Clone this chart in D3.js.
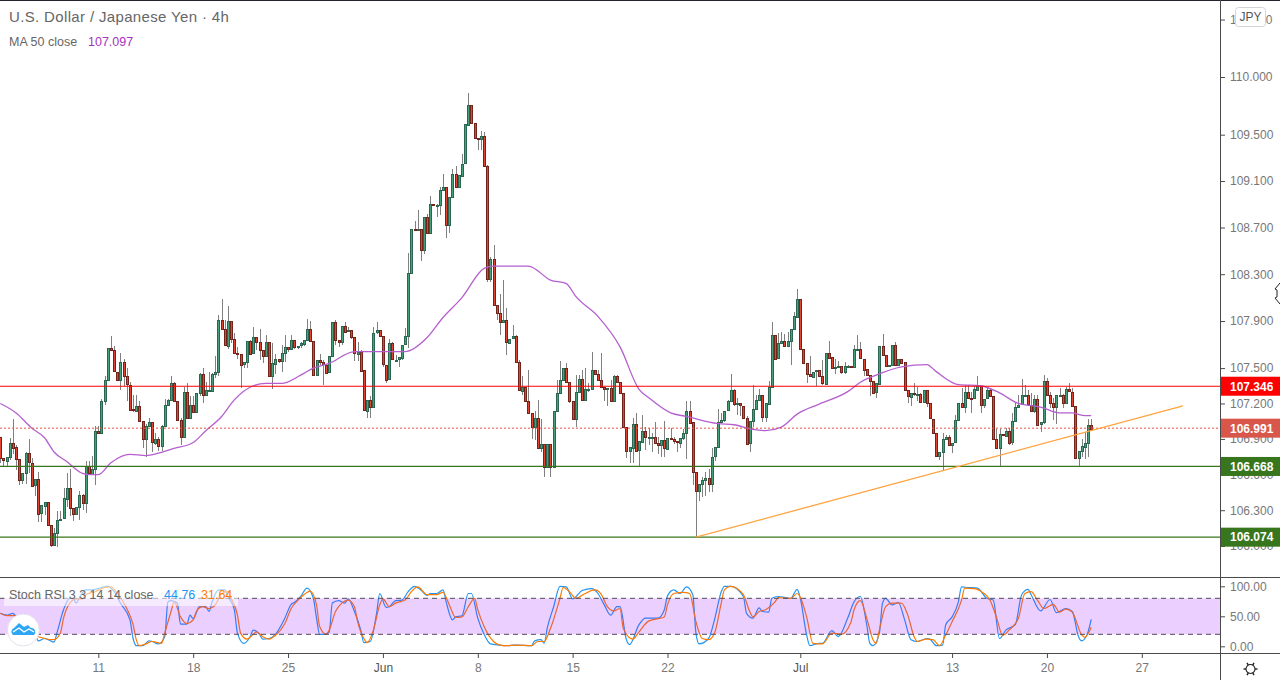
<!DOCTYPE html>
<html>
<head>
<meta charset="utf-8">
<title>USDJPY 4h</title>
<style>
    html, body { margin: 0; padding: 0; background: #fff; }
    svg { display: block; }
    text { font-family: "Liberation Sans", Arial, sans-serif; }
    .axis path { display: none; }
    .axis line { stroke: #4a4a4a; }
    .axis text { fill: #777; font-size: 12px; }
    .tag text, .tag { font-weight: bold; }
</style>
</head>
<body>
<div id="chart"></div>
<script src="https://cdnjs.cloudflare.com/ajax/libs/d3/7.8.5/d3.min.js"></script>
<script>
// 4h candles, one per row of ten, each opens at the previous close
const firstOpen = 106.92;
const closes = [
    106.74,106.72,106.75,106.87,106.83,106.73,106.55,106.61,106.78,106.70,
    106.51,106.56,106.27,106.34,106.37,106.18,106.01,106.11,106.22,106.23,
    106.40,106.49,106.32,106.27,106.33,106.43,106.36,106.67,106.61,106.65,
    106.97,106.95,107.22,107.40,107.67,107.65,107.47,107.40,107.55,107.43,
    107.36,107.15,107.14,107.18,107.05,106.90,107.01,107.04,106.87,106.90,
    106.84,107.01,107.19,107.23,107.37,107.22,107.06,106.92,107.30,107.08,
    107.19,107.13,107.29,107.45,107.27,107.31,107.31,107.45,107.47,107.91,
    107.83,107.69,107.90,107.75,107.63,107.62,107.53,107.55,107.73,107.62,
    107.76,107.72,107.65,107.60,107.72,107.43,107.54,107.58,107.56,107.63,
    107.68,107.66,107.74,107.68,107.69,107.71,107.74,107.83,107.73,107.44,
    107.57,107.55,107.53,107.46,107.60,107.89,107.74,107.72,107.86,107.81,
    107.82,107.76,107.62,107.64,107.48,107.14,107.23,107.17,107.80,107.82,
    107.77,107.53,107.40,107.71,107.57,107.57,107.59,107.70,107.77,108.31,
    108.69,108.68,108.69,108.51,108.79,108.65,108.90,108.89,108.89,109.02,
    109.05,108.72,108.96,109.16,109.05,109.15,109.25,109.59,109.76,109.60,
    109.47,109.46,109.49,109.23,108.26,108.43,108.04,107.97,107.89,107.91,
    107.72,107.75,107.77,107.55,107.31,107.34,107.22,107.12,107.00,107.08,
    106.83,106.86,106.67,106.86,106.67,107.14,107.29,107.40,107.50,107.38,
    107.22,107.07,107.30,107.41,107.23,107.32,107.32,107.48,107.45,107.40,
    107.34,107.32,107.33,107.22,107.43,107.38,107.29,107.00,106.80,106.83,
    107.03,106.80,106.88,106.97,106.92,106.92,106.92,106.87,106.85,106.89,
    106.82,106.91,106.90,106.88,106.87,106.91,106.95,107.14,107.04,106.62,
    106.46,106.52,106.55,106.57,106.52,106.75,106.83,107.04,107.06,107.14,
    107.22,107.31,107.19,107.20,107.18,107.08,106.86,107.05,107.15,107.23,
    107.27,107.08,107.20,107.34,107.78,107.58,107.71,107.73,107.69,107.73,
    107.83,107.94,108.09,107.66,107.54,107.45,107.43,107.47,107.48,107.43,
    107.37,107.63,107.59,107.50,107.51,107.52,107.47,107.52,107.52,107.51,
    107.66,107.66,107.58,107.49,107.44,107.39,107.29,107.37,107.69,107.61,
    107.52,107.53,107.70,107.53,107.58,107.55,107.31,107.26,107.29,107.28,
    107.28,107.21,107.31,107.20,107.07,106.95,106.76,106.79,106.90,106.92,
    106.85,106.87,107.06,107.20,107.17,107.30,107.25,107.24,107.32,107.35,
    107.19,107.24,107.31,107.26,106.90,106.82,106.94,106.93,106.97,106.87,
    107.05,107.17,107.19,107.27,107.27,107.19,107.14,107.24,107.02,107.04,
    107.39,107.27,107.20,107.17,107.27,107.27,107.20,107.32,107.30,107.18,
    106.74,106.80,106.84,106.87,107.02,106.99
];
const highs = [
    106.92,106.74,106.75,106.91,107.07,106.85,106.73,106.61,106.79,106.90,
    106.74,106.56,106.62,106.34,106.37,106.37,106.18,106.15,106.29,106.29,
    106.49,106.61,106.65,106.32,106.33,106.46,106.44,106.71,106.71,106.76,
    107.01,107.01,107.24,107.43,107.67,107.77,107.69,107.47,107.63,107.58,
    107.50,107.38,107.27,107.27,107.22,107.05,107.03,107.08,107.04,106.95,
    106.92,107.02,107.24,107.24,107.43,107.38,107.22,107.08,107.34,107.37,
    107.26,107.26,107.29,107.46,107.50,107.38,107.47,107.46,107.60,107.95,
    108.09,107.91,108.03,107.90,107.80,107.68,107.62,107.55,107.73,107.74,
    107.85,107.76,107.83,107.65,107.78,107.72,107.71,107.62,107.58,107.70,
    107.78,107.68,107.78,107.74,107.69,107.72,107.74,107.92,107.90,107.73,
    107.57,107.62,107.57,107.53,107.60,107.89,107.91,107.74,107.86,107.89,
    107.85,107.82,107.76,107.72,107.65,107.48,107.23,107.26,107.85,107.89,
    107.82,107.77,107.53,107.75,107.72,107.61,107.59,107.70,107.84,108.48,
    108.69,108.76,108.85,108.69,108.79,108.82,108.97,108.90,108.90,109.05,
    109.16,109.05,108.96,109.20,109.23,109.15,109.33,109.59,109.86,109.76,
    109.60,109.47,109.53,109.52,109.24,108.45,108.55,108.04,108.13,108.25,
    108.01,107.75,107.87,107.78,107.57,107.43,107.34,107.48,107.12,107.14,
    107.23,107.07,106.86,106.86,106.86,107.14,107.40,107.56,107.50,107.54,
    107.38,107.22,107.44,107.44,107.48,107.50,107.37,107.64,107.48,107.48,
    107.63,107.34,107.33,107.40,107.44,107.44,107.38,107.29,107.00,106.83,
    107.08,107.12,106.88,107.10,107.00,106.99,106.95,107.04,106.92,106.89,
    107.05,106.91,106.99,106.92,106.88,106.91,106.98,107.22,107.22,107.04,
    106.62,106.52,106.58,106.62,106.65,106.82,106.83,107.15,107.12,107.14,
    107.23,107.45,107.32,107.25,107.20,107.18,107.09,107.05,107.36,107.27,
    107.32,107.27,107.20,107.39,107.89,107.78,107.80,107.81,107.79,107.81,
    107.83,107.98,108.17,108.09,107.66,107.54,107.60,107.47,107.48,107.48,
    107.57,107.63,107.73,107.59,107.58,107.56,107.52,107.55,107.53,107.52,
    107.70,107.78,107.72,107.58,107.49,107.44,107.39,107.37,107.69,107.79,
    107.61,107.53,107.70,107.72,107.58,107.58,107.55,107.31,107.29,107.37,
    107.34,107.29,107.31,107.31,107.20,107.07,106.95,106.79,106.95,106.93,
    106.93,106.87,107.10,107.20,107.33,107.36,107.36,107.30,107.36,107.43,
    107.35,107.24,107.33,107.33,107.26,106.98,106.98,106.94,106.99,106.99,
    107.12,107.20,107.27,107.41,107.36,107.31,107.29,107.27,107.27,107.04,
    107.44,107.42,107.30,107.25,107.27,107.33,107.28,107.34,107.37,107.33,
    107.18,106.80,106.90,106.96,107.07,107.07
];
const lows = [
    106.70,106.67,106.67,106.72,106.77,106.64,106.51,106.52,106.52,106.61,
    106.51,106.42,106.20,106.20,106.26,106.18,105.99,106.00,105.99,106.22,
    106.23,106.33,106.25,106.21,106.27,106.22,106.30,106.28,106.61,106.61,
    106.51,106.95,106.95,107.19,107.40,107.65,107.47,107.40,107.31,107.35,
    107.22,107.15,107.13,107.14,107.05,106.82,106.75,107.01,106.79,106.85,
    106.80,106.80,107.01,107.19,107.23,107.22,107.05,106.85,106.91,107.08,
    107.08,107.13,107.13,107.26,107.20,107.27,107.30,107.30,107.42,107.43,
    107.83,107.69,107.66,107.71,107.62,107.58,107.33,107.50,107.50,107.62,
    107.62,107.65,107.57,107.54,107.60,107.43,107.32,107.45,107.54,107.47,
    107.55,107.64,107.66,107.66,107.66,107.67,107.69,107.74,107.73,107.44,
    107.44,107.53,107.36,107.46,107.46,107.60,107.70,107.68,107.70,107.81,
    107.81,107.75,107.56,107.56,107.48,107.14,107.08,107.08,107.17,107.79,
    107.77,107.51,107.37,107.40,107.57,107.57,107.51,107.57,107.70,107.67,
    108.31,108.68,108.68,108.41,108.47,108.65,108.65,108.89,108.79,108.81,
    109.02,108.61,108.65,108.96,109.05,109.05,109.15,109.25,109.59,109.60,
    109.47,109.37,109.37,109.23,108.23,108.23,108.04,107.91,107.78,107.89,
    107.61,107.71,107.75,107.55,107.31,107.27,107.22,107.12,106.90,106.89,
    106.83,106.79,106.58,106.67,106.58,106.67,107.14,107.29,107.40,107.38,
    107.20,107.07,107.00,107.30,107.23,107.23,107.30,107.32,107.45,107.40,
    107.34,107.22,107.18,107.22,107.22,107.38,107.29,107.00,106.74,106.70,
    106.70,106.80,106.67,106.88,106.81,106.85,106.79,106.87,106.77,106.75,
    106.75,106.82,106.89,106.86,106.79,106.82,106.89,106.73,107.03,106.51,
    106.07,106.38,106.41,106.42,106.45,106.45,106.71,106.83,107.04,107.04,
    107.14,107.22,107.18,107.10,107.09,107.08,106.86,106.79,107.00,107.15,
    107.23,107.04,107.04,107.20,107.34,107.57,107.58,107.71,107.69,107.69,
    107.53,107.83,107.94,107.66,107.54,107.37,107.43,107.43,107.35,107.43,
    107.36,107.36,107.59,107.49,107.45,107.51,107.45,107.45,107.51,107.50,
    107.51,107.66,107.58,107.43,107.44,107.26,107.29,107.25,107.37,107.61,
    107.52,107.52,107.53,107.53,107.53,107.55,107.31,107.20,107.18,107.26,
    107.22,107.21,107.21,107.17,107.07,106.95,106.76,106.72,106.64,106.90,
    106.84,106.78,106.87,107.06,107.17,107.12,107.25,107.12,107.24,107.32,
    107.12,107.16,107.24,107.26,106.90,106.82,106.67,106.93,106.93,106.85,
    106.85,107.05,107.17,107.19,107.27,107.19,107.13,107.12,107.02,106.96,
    107.03,107.27,107.16,107.06,107.03,107.27,107.16,107.20,107.30,107.18,
    106.74,106.67,106.75,106.73,106.75,106.98
];

const maIdx = [0,5,10,14,17,21,26,28,31,35,41,46,50,55,61,65,70,74,80,84,89,95,99,104,112,118,128,135,140,146,153,156,167,174,179,182,189,196,202,205,212,217,227,232,238,242,247,252,259,268,272,277,285,293,296,303,310,316,322,329,335,339,343,345];
const maVal = [107.20,107.12,106.99,106.91,106.79,106.71,106.61,106.60,106.60,106.70,106.77,106.76,106.78,106.82,106.87,106.97,107.09,107.23,107.35,107.37,107.37,107.44,107.50,107.54,107.64,107.64,107.64,107.76,107.93,108.10,108.35,108.37,108.37,108.25,108.22,108.11,107.94,107.68,107.32,107.25,107.12,107.09,107.03,107.02,106.98,106.97,107.00,107.11,107.195,107.30,107.38,107.44,107.51,107.53,107.47,107.36,107.35,107.29,107.20,107.17,107.12,107.12,107.097,107.097];

// Stoch RSI %K
const kIdx = [0,2,4,5,11,12,14,17,18,20,22,23,24,25,27,29,32,34,36,38,41,42,43,45,47,48,50,52,53,54,56,57,59,60,61,63,65,66,67,69,71,72,74,75,77,79,80,82,83,85,87,90,92,93,95,97,99,100,101,102,104,105,107,109,110,112,114,115,117,119,120,122,123,125,127,129,131,133,135,136,138,140,141,143,144,146,148,149,151,153,155,158,160,163,168,169,171,172,173,175,177,179,181,184,187,189,191,193,195,196,198,199,202,204,208,210,211,213,215,217,219,220,221,224,226,228,229,231,235,236,238,240,241,243,244,246,250,252,253,255,256,259,260,263,265,268,270,272,274,275,276,278,279,280,282,284,286,288,290,293,294,296,298,299,301,303,304,306,309,312,314,316,318,321,323,325,326,329,332,334,337,339,341,342,344,345];
const kVal = [55,52,55,49,22,9,13,7,24,61,80,80,72,81,94,94,98,100,91,72,44,13,1,1,9,8,4,16,74,76,72,37,37,52,46,66,66,58,74,94,94,83,61,22,5,16,27,20,12,13,20,47,70,73,83,97,80,47,20,20,23,72,76,72,79,58,27,6,8,55,88,65,66,76,77,91,100,94,85,88,88,94,74,44,49,51,88,88,47,20,4,2,1,2,1,9,11,5,31,66,100,99,79,93,96,88,69,52,66,66,11,3,36,47,47,61,84,94,88,99,86,22,4,13,47,91,100,100,83,55,47,64,58,57,80,83,80,95,80,19,1,5,5,26,16,47,74,83,36,5,1,22,72,80,69,73,44,11,8,13,12,1,2,36,49,74,99,98,97,80,77,13,27,36,86,95,86,59,78,56,63,58,16,9,24,44.76];
// Stoch RSI %D
const dIdx = [0,2,5,11,14,17,19,20,22,24,26,27,30,33,35,37,40,42,43,44,46,48,51,52,54,55,57,59,61,62,64,66,68,70,72,73,75,76,78,80,81,83,85,87,90,92,94,96,98,100,101,103,104,106,108,110,112,113,115,116,118,120,121,123,125,128,130,132,135,136,138,140,142,144,146,148,150,151,153,156,158,160,163,168,170,172,174,177,178,180,182,185,188,190,192,194,196,197,200,202,205,208,210,211,213,216,218,220,222,224,226,228,229,231,235,237,238,240,242,245,246,250,252,255,257,260,263,266,269,270,272,274,276,277,278,280,282,285,287,289,290,293,295,297,299,301,304,305,308,310,313,315,317,319,322,324,326,328,330,333,335,337,339,342,343,345];
const dVal = [55,51,51,19,13,11,22,47,72,79,79,86,91,98,99,88,63,36,11,1,4,8,5,22,58,74,49,38,44,58,66,63,69,88,91,80,52,22,12,20,24,16,12,18,38,63,76,86,92,69,33,20,27,58,72,77,66,41,13,6,27,69,79,66,72,77,91,99,86,86,86,90,69,48,49,66,80,61,33,8,2,1,2,1,8,8,30,80,98,91,80,88,94,87,66,59,63,30,12,24,42,46,49,69,88,90,88,41,13,11,24,72,94,100,86,58,49,58,61,74,81,80,88,49,5,4,22,20,40,61,76,47,11,5,27,66,72,72,52,16,8,12,11,1,19,41,77,97,96,92,77,49,18,27,47,88,91,77,63,70,57,62,57,19,15,31.64];

const priceTicks = [110.5,110,109.5,109.1,108.7,108.3,107.9,107.5,107.2,106.9,106.6,106.3,106];
const stochTicks = [100,50,0];
// time axis: candle number -> label
const timeIdx = [31,61,91,121,151,181,211,253,301,331,361];
const timeLabels = ["11","18","25","Jun","8","15","22","Jul","13","20","27"];

const levels = [107.346, 106.668, 106.074];
const lastPrice = 106.991;
const trendIdx = [220, 374];
const trendPrice = [106.074, 107.18];

let width = 1280, height = 680;
let axisX = 1221, paneBottom = 577, stochBottom = 654;

let svg = d3.select("#chart").append("svg")
    .attr("width", width)
    .attr("height", height);

let x = d3.scaleLinear().domain([0, 345]).range([0.3, 1091.2]);
let y = d3.scaleLog().domain([110, 106]).range([77, 546]);
let yS = d3.scaleLinear().domain([100, 0]).range([586.3, 646.3]);

let opens = closes.map(function (d, i) { return i === 0 ? firstOpen : closes[i - 1]; });

svg.append("clipPath").attr("id", "mainClip").append("rect")
    .attr("x", 0).attr("y", 0).attr("width", axisX).attr("height", paneBottom);
svg.append("clipPath").attr("id", "stochClip").append("rect")
    .attr("x", 0).attr("y", paneBottom).attr("width", axisX).attr("height", stochBottom - paneBottom);

let main = svg.append("g").attr("clip-path", "url(#mainClip)");

// wicks
main.append("g").selectAll("rect")
    .data(closes)
    .enter().append("rect")
    .attr("x", function (d, i) { return Math.round(x(i)); })
    .attr("y", function (d, i) { return y(Math.max(highs[i], opens[i], closes[i])); })
    .attr("width", 1)
    .attr("height", function (d, i) { return y(Math.min(lows[i], opens[i], closes[i])) - y(Math.max(highs[i], opens[i], closes[i])); })
    .attr("fill", "#808080")
    .attr("shape-rendering", "crispEdges");

// bodies
main.append("g").selectAll("rect")
    .data(closes)
    .enter().append("rect")
    .attr("x", function (d, i) { return Math.round(x(i)) - 0.5; })
    .attr("y", function (d, i) { return Math.round(y(Math.max(opens[i], closes[i]))) + 0.5; })
    .attr("width", 2)
    .attr("height", function (d, i) { return Math.max(1, Math.round(y(Math.min(opens[i], closes[i])) - y(Math.max(opens[i], closes[i])))); })
    .attr("fill", function (d, i) { return closes[i] >= opens[i] ? "#46a17b" : "#e04533"; })
    .attr("stroke", function (d, i) { return closes[i] >= opens[i] ? "#2a6650" : "#73231a"; })
    .attr("stroke-width", 1)
    .attr("shape-rendering", "crispEdges");

// moving average
let maLine = d3.line()
    .x(function (d) { return x(d); })
    .y(function (d, i) { return y(maVal[i]); })
    .curve(d3.curveMonotoneX);
main.append("path")
    .attr("d", maLine(maIdx))
    .attr("fill", "none")
    .attr("stroke", "#b55fcf")
    .attr("stroke-width", 1.3);

// horizontal levels and the trend line
main.selectAll(".level")
    .data(levels)
    .enter().append("line")
    .attr("class", "level")
    .attr("x1", 0).attr("x2", axisX)
    .attr("y1", function (d) { return y(d); })
    .attr("y2", function (d) { return y(d); })
    .attr("stroke", function (d, i) { return i === 0 ? "#f00" : "#38761d"; })
    .attr("stroke-width", 1.2);

main.append("line")
    .attr("x1", 0).attr("x2", axisX)
    .attr("y1", y(lastPrice)).attr("y2", y(lastPrice))
    .attr("stroke", "#e8503f")
    .attr("stroke-width", 1)
    .attr("stroke-dasharray", "2 2");

main.append("line")
    .attr("x1", x(trendIdx[0])).attr("y1", y(trendPrice[0]))
    .attr("x2", x(trendIdx[1])).attr("y2", y(trendPrice[1]))
    .attr("stroke", "#ffa33f")
    .attr("stroke-width", 1.3);

// stochastic pane
let stoch = svg.append("g").attr("clip-path", "url(#stochClip)");

let kLine = d3.line().x(function (d) { return x(d); }).y(function (d, i) { return yS(kVal[i]); }).curve(d3.curveMonotoneX);
let dLine = d3.line().x(function (d) { return x(d); }).y(function (d, i) { return yS(dVal[i]); }).curve(d3.curveMonotoneX);
stoch.append("path").attr("d", kLine(kIdx)).attr("fill", "none").attr("stroke", "#2196f3").attr("stroke-width", 1.2);
stoch.append("path").attr("d", dLine(dIdx)).attr("fill", "none").attr("stroke", "#ff7a00").attr("stroke-width", 1.2);

stoch.append("rect")
    .attr("x", 0).attr("width", axisX)
    .attr("y", yS(80)).attr("height", yS(20) - yS(80))
    .attr("fill", "#9915ff").attr("fill-opacity", 0.2);

stoch.selectAll(".band")
    .data([80, 20])
    .enter().append("line")
    .attr("class", "band")
    .attr("x1", 0).attr("x2", axisX)
    .attr("y1", function (d) { return yS(d); })
    .attr("y2", function (d) { return yS(d); })
    .attr("stroke", "#4f4a5c")
    .attr("stroke-dasharray", "5 4");

// axes
let priceAxis = svg.append("g")
    .attr("class", "axis")
    .attr("transform", "translate(" + axisX + ",0)")
    .call(d3.axisRight(y).tickValues(priceTicks).tickFormat(d3.format(".3f")).tickSize(4).tickPadding(5));

let stochAxis = svg.append("g")
    .attr("class", "axis")
    .attr("transform", "translate(" + axisX + ",0)")
    .call(d3.axisRight(yS).tickValues(stochTicks).tickFormat(d3.format(".2f")).tickSize(4).tickPadding(5));

let timeAxis = svg.append("g")
    .attr("class", "axis")
    .attr("transform", "translate(0," + stochBottom + ")")
    .call(d3.axisBottom(x).tickValues(timeIdx).tickFormat(function (d, i) { return timeLabels[i]; }).tickSize(4).tickPadding(5));
timeAxis.selectAll("text")
    .attr("fill", function (d, i) { return timeLabels[i].length > 2 ? "#555" : "#777"; })
    .style("fill", function (d, i) { return timeLabels[i].length > 2 ? "#555" : "#777"; });

// frame lines
svg.append("rect").attr("x", 0).attr("y", 0).attr("width", width).attr("height", 1).attr("fill", "#20232b");
svg.append("rect").attr("x", 0).attr("y", paneBottom).attr("width", width).attr("height", 1).attr("fill", "#4a4a4a");
svg.append("rect").attr("x", 0).attr("y", stochBottom - 1).attr("width", width).attr("height", 1).attr("fill", "#4a4a4a");
svg.append("rect").attr("x", axisX - 1).attr("y", 0).attr("width", 1).attr("height", height).attr("fill", "#4a4a4a");

// price tags
let tags = [
    { v: levels[0], c: "#f00" },
    { v: lastPrice, c: "#d9574a" },
    { v: levels[1], c: "#38761d" },
    { v: levels[2], c: "#38761d" }
];
let tag = svg.selectAll(".tag")
    .data(tags)
    .enter().append("g")
    .attr("class", "tag")
    .attr("transform", function (d) { return "translate(" + axisX + "," + y(d.v) + ")"; });
tag.append("rect")
    .attr("x", 0).attr("y", -9.5)
    .attr("width", width - axisX).attr("height", 19)
    .attr("fill", function (d) { return d.c; });
tag.append("text")
    .attr("x", 9).attr("dy", "0.36em")
    .attr("fill", "#fff")
    .attr("font-size", 12)
    .text(function (d) { return d3.format(".3f")(d.v); });

// currency badge
svg.append("rect")
    .attr("x", 1235.5).attr("y", 7.5).attr("width", 30).attr("height", 19).attr("rx", 3)
    .attr("fill", "#fff").attr("stroke", "#d4d4d4");
svg.append("text")
    .attr("x", 1250.5).attr("y", 21)
    .attr("text-anchor", "middle")
    .attr("fill", "#555").attr("font-size", 12)
    .text("JPY");

// legends
svg.append("text").attr("x", 9).attr("y", 22)
    .attr("fill", "#666").attr("font-size", 15).attr("letter-spacing", 0.35)
    .text("U.S. Dollar / Japanese Yen \u00b7 4h");
svg.append("text").attr("x", 9).attr("y", 46)
    .attr("fill", "#666").attr("font-size", 12.5)
    .text("MA 50 close");
svg.append("text").attr("x", 88).attr("y", 46)
    .attr("fill", "#a632bd").attr("font-size", 12.5)
    .text("107.097");

svg.append("rect")
    .attr("x", 4).attr("y", 586).attr("width", 234).attr("height", 20)
    .attr("fill", "#fff").attr("fill-opacity", 0.55);
svg.append("text").attr("x", 9).attr("y", 599)
    .attr("fill", "#666").attr("font-size", 12.5)
    .text("Stoch RSI 3 3 14 14 close");
svg.append("text").attr("x", 164).attr("y", 599)
    .attr("fill", "#2196f3").attr("font-size", 12.5)
    .text("44.76");
svg.append("text").attr("x", 201).attr("y", 599)
    .attr("fill", "#ff7a00").attr("font-size", 12.5)
    .text("31.64");

// logo
svg.append("circle")
    .attr("cx", 23.3).attr("cy", 630).attr("r", 16)
    .attr("fill", "#fff").attr("stroke", "#e6e0ea");
svg.append("path")
    .attr("d", "M13 635 a4 4 0 0 1 1 -7 l5 -5 l5 4 l4 -2 l3 3 a4 4 0 0 1 3 7 z")
    .attr("fill", "#2ea6f5");
svg.append("path")
    .attr("d", "M13 632 l6 -4 l5 4 l5 -3 l5 3")
    .attr("fill", "none").attr("stroke", "#fff").attr("stroke-width", 1.4);

// settings gear
let gear = svg.append("g").attr("transform", "translate(1250.5,669)");
gear.append("circle").attr("r", 4.5).attr("fill", "none").attr("stroke", "#222").attr("stroke-width", 1.1);
gear.selectAll("line")
    .data(d3.range(0, 360, 60))
    .enter().append("line")
    .attr("y1", -4.5).attr("y2", -7)
    .attr("transform", function (d) { return "rotate(" + (d + 30) + ")"; })
    .attr("stroke", "#222").attr("stroke-width", 1.4);

// mouse cursor cut by the right edge
svg.append("path")
    .attr("d", "M1280 283 l-5 6 l2 1 v7 l-2 1 l5 6")
    .attr("fill", "#fff").attr("stroke", "#222");
</script>
</body>
</html>
